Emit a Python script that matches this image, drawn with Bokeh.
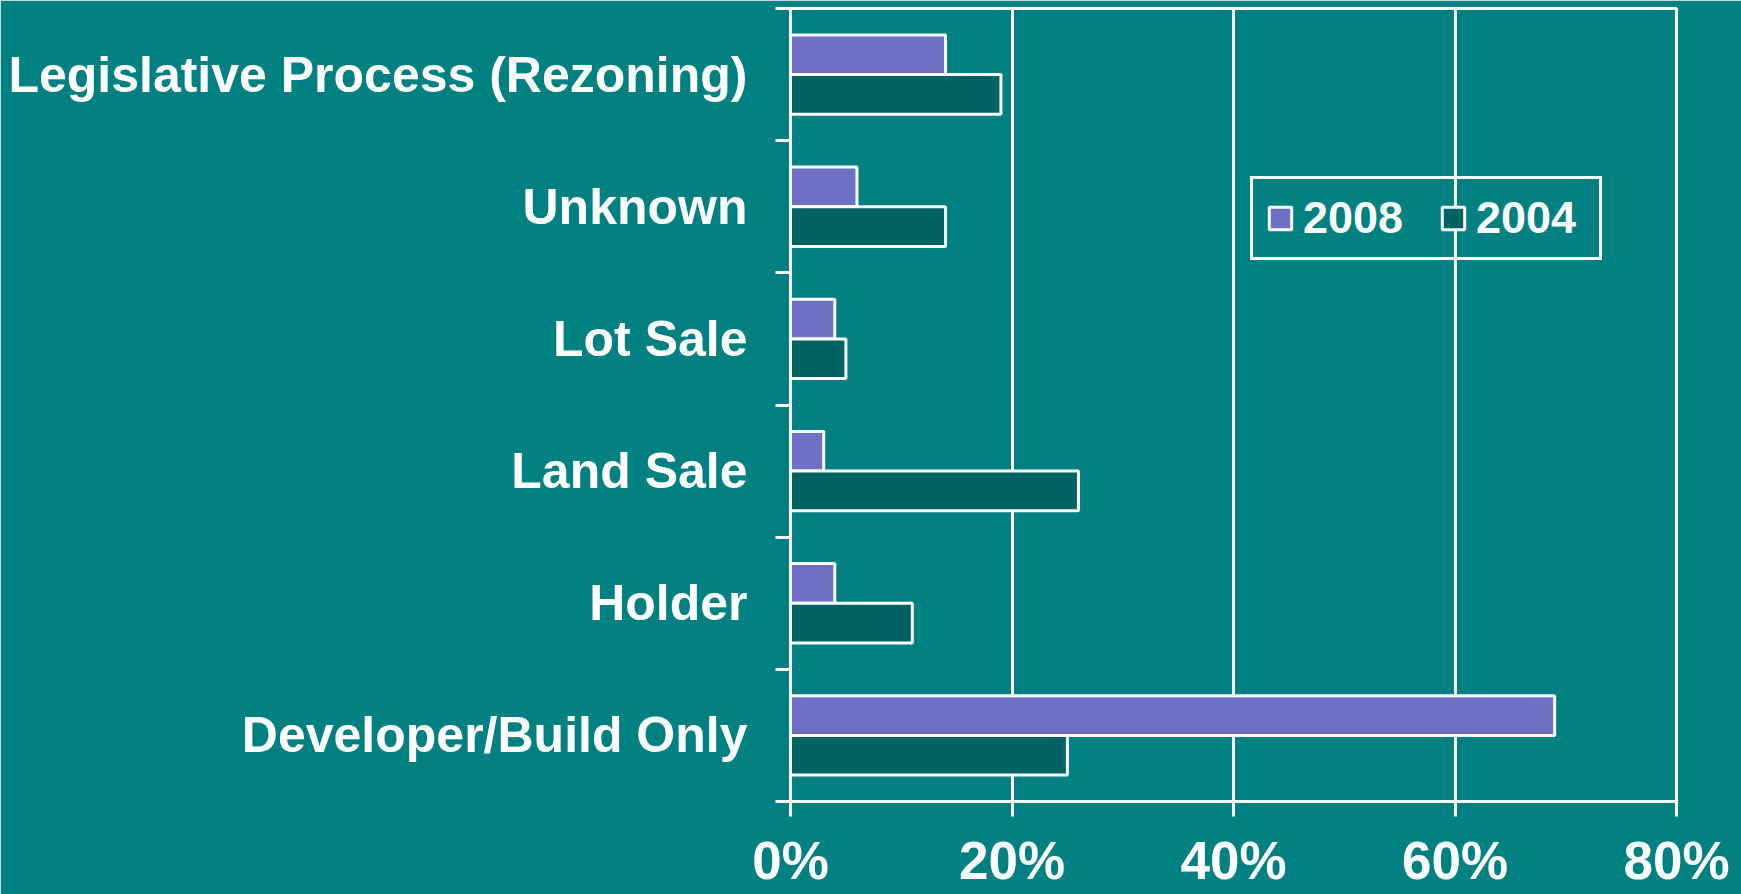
from bokeh.plotting import figure
from bokeh.models import Range1d, FixedTicker, PrintfTickFormatter, Legend, LegendItem, ColumnDataSource
from bokeh.transform import dodge
from bokeh.embed import file_html
from bokeh.resources import INLINE

categories = ["Developer/Build Only", "Holder", "Land Sale", "Lot Sale", "Unknown",
              "Legislative Process (Rezoning)"]
values_2008 = [69, 4, 3, 4, 6, 14]
values_2004 = [25, 11, 26, 5, 14, 19]
x_ticks = [0, 20, 40, 60, 80]
series_names = ["2008", "2004"]

BG = "#008080"
C08 = "#6E70C5"
C04 = "#006262"
FONT = "Liberation Sans"

pos = [i + 0.5 for i in range(len(categories))]
source = ColumnDataSource(dict(pos=pos, cat=categories, v08=values_2008, v04=values_2004))

p = figure(width=1741, height=894,
           x_range=Range1d(x_ticks[0], x_ticks[-1]), y_range=Range1d(0, len(categories)),
           output_backend="svg", toolbar_location=None,
           min_border_left=790, min_border_right=65, min_border_top=8, min_border_bottom=93,
           background_fill_color=BG, border_fill_color=BG,
           outline_line_color="white", outline_line_width=3)

r08 = p.hbar(y=dodge('pos', 0.15), left=0, right='v08', height=0.3, source=source,
             fill_color=C08, line_color="white", line_width=3)
r04 = p.hbar(y=dodge('pos', -0.15), left=0, right='v04', height=0.3, source=source,
             fill_color=C04, line_color="white", line_width=3)

# x axis
xa = p.xaxis[0]
xa.ticker = FixedTicker(ticks=x_ticks)
xa.formatter = PrintfTickFormatter(format="%d%%")
xa.axis_line_color = "white"
xa.axis_line_width = 3
xa.major_tick_line_color = "white"
xa.major_tick_line_width = 3
xa.major_tick_out = 15
xa.major_tick_in = 0
xa.minor_tick_line_color = None
xa.major_label_standoff = 14
xa.major_label_text_font = FONT
xa.major_label_text_font_style = "bold"
xa.major_label_text_font_size = "53px"
xa.major_label_text_color = "white"

# y axis
ya = p.yaxis[0]
ya.ticker = FixedTicker(ticks=pos, minor_ticks=list(range(len(categories) + 1)))
ya.major_label_overrides = {pp: c for pp, c in zip(pos, categories)}
ya.axis_line_color = "white"
ya.axis_line_width = 3
ya.major_tick_line_color = None
ya.major_tick_out = 0
ya.major_tick_in = 0
ya.minor_tick_line_color = "white"
ya.minor_tick_line_width = 3
ya.minor_tick_out = 15
ya.minor_tick_in = 0
ya.major_label_standoff = 28
ya.major_label_text_font = FONT
ya.major_label_text_font_style = "bold"
ya.major_label_text_font_size = "50px"
ya.major_label_text_color = "white"

p.ygrid.visible = False
p.xgrid.ticker = FixedTicker(ticks=x_ticks)
p.xgrid.grid_line_color = "white"
p.xgrid.grid_line_width = 3
p.xgrid.grid_line_alpha = 1

legend = Legend(items=[LegendItem(label=series_names[0], renderers=[r08]),
                       LegendItem(label=series_names[1], renderers=[r04])],
                orientation="horizontal", location=(460, 541),
                label_text_font=FONT, label_text_font_style="bold",
                label_text_font_size="45px", label_text_color="white",
                border_line_color="white", border_line_width=3, border_line_alpha=1,
                background_fill_alpha=0,
                glyph_width=28, glyph_height=28, label_standoff=9,
                label_width=110, spacing=26, padding=13, margin=0)
p.add_layout(legend)

open("out.html", "w").write(file_html(p, INLINE))
